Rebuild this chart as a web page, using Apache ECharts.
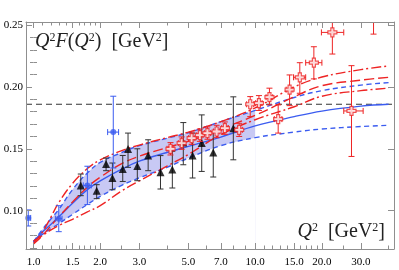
<!DOCTYPE html>
<html><head><meta charset="utf-8">
<script src="https://cdn.jsdelivr.net/npm/echarts@6/dist/echarts.min.js"></script>
<style>html,body{margin:0;padding:0;background:#fff}#c{width:399px;height:270px}</style>
</head><body><div id="c"></div>
<script>
// ---- axis ticks ----
const xTickLabels = [1, 1.5, 2, 3, 5, 7, 10, 15, 20, 30];
const xMinorTicks = [1.1,1.2,1.3,1.4,1.6,1.7,1.8,1.9,2.5,4,6,8,9,11,12,13,14,16,17,18,19,25,40];
const yTickLabels = [0.10, 0.15, 0.20, 0.25];
const yMinorTicks = [0.07,0.08,0.09,0.11,0.12,0.13,0.14,0.16,0.17,0.18,0.19,0.21,0.22,0.23,0.24];
const xMin = 0.925, xMax = 42.3, yMin = 0.069, yMax = 0.2525;

// ---- theory curves (Q^2 grid) ----
const curveQ2     = [1,     1.1,   1.2,   1.3,   1.5,   1.75,  2,     2.5,   3,     4,     5,     7,     10,    15,    20,    30,    40];
const blueCentral = [0.075, 0.083, 0.089, 0.095, 0.106, 0.117, 0.124, 0.1335,0.140, 0.147, 0.152, 0.1595,0.1685,0.176, 0.1805,0.1845,0.186];
const blueUpper   = [0.075, 0.085, 0.0935,0.101, 0.117, 0.1305,0.139, 0.147, 0.1525,0.1585,0.163, 0.172, 0.181, 0.1915,0.197, 0.2015,0.2035];
const blueLower   = [0.0745,0.081, 0.0855,0.0895,0.097, 0.105, 0.1115,0.1205,0.1265,0.135, 0.1425,0.1525,0.159, 0.1635,0.166, 0.168, 0.169];
const redUpper    = [0.0735,0.083, 0.095, 0.1065,0.122, 0.134, 0.141, 0.1485,0.153, 0.159, 0.1635,0.172, 0.183, 0.200, 0.208, 0.214, 0.217];
const redMiddle   = [0.073, 0.080, 0.088, 0.095, 0.107, 0.119, 0.127, 0.138, 0.144, 0.151, 0.156, 0.166, 0.177, 0.192, 0.201, 0.2055,0.2078];
const redLower    = [0.0755,0.080, 0.0845,0.088, 0.093, 0.099, 0.104, 0.116, 0.124, 0.136, 0.1455,0.1615,0.1735,0.184, 0.1925,0.197, 0.199];
const bandEnd = 10;
const refLine = 0.186;

// ---- blue data points ----
const blueQ2   = [0.947, 1.3,   1.75,  2.29];
const blueF    = [0.0941,0.0935,0.1204,0.1635];
const blueErr  = [0.0065,0.0105,0.0155,0.029];
const blueXErr = [0.024, 0.045, 0.073, 0.13];

// ---- black triangles ----
const blackQ2  = [1.634, 1.928, 2.125, 2.27,  2.527, 2.67,  2.94,  3.29,  3.74,  4.23,  4.74,  5.22,  5.74,  6.47,  7.97];
const blackF   = [0.1204,0.1161,0.1377,0.1264,0.1336,0.1498,0.1360,0.1445,0.1310,0.1333,0.1550,0.1445,0.1546,0.1470,0.1667];
const blackLo  = [0.1121,0.1097,0.1323,0.1169,0.1236,0.1350,0.1242,0.1323,0.1175,0.1183,0.1371,0.1264,0.1317,0.1272,0.1411];
const blackHi  = [0.1296,0.1210,0.1425,0.1385,0.1446,0.1627,0.1500,0.1573,0.1445,0.1480,0.1712,0.1627,0.1774,0.1640,0.1920];

// ---- red open crosses ----
const redQ2   = [4.15,  4.66,  5.17,  5.63,  6.09,  6.7,   7.3,   8.47,  9.5,   10.4,  11.6,  12.7,  14.3,  15.9,  18.4,  22.3,  27.2,  34.2];
const redF    = [0.150, 0.1546,0.1586,0.161, 0.1627,0.164, 0.1667,0.1653,0.186, 0.1869,0.1917,0.174, 0.1978,0.2078,0.2196,0.2441,0.1806,0.262];
const redLo   = [0.145, 0.1496,0.1536,0.156, 0.1577,0.159, 0.1617,0.160, 0.176, 0.181, 0.1855,0.1627,0.1849,0.1949,0.2065,0.2266,0.1438,0.2427];
const redHi   = [0.155, 0.1596,0.1636,0.166, 0.1677,0.169, 0.1717,0.1706,0.1922,0.193, 0.199, 0.1855,0.2097,0.2196,0.2325,0.2535,0.2172,0.281];
const redXLo  = [4.0,   4.5,   5.0,   5.45,  5.9,   6.48,  7.06,  8.2,   9.15,  10.05, 11.2,  12.2,  13.8,  14.9,  16.9,  19.9,  25.1,  32.5];
const redXHi  = [4.3,   4.82,  5.35,  5.82,  6.3,   6.93,  7.55,  8.75,  9.85,  10.75, 12.0,  13.2,  14.8,  16.9,  20.0,  25.1,  30.7,  36.0];

const BLUE = '#3b5cf0', RED = '#ee2424', BAND = '#c8c9f4', FRAME = '#8f8f8f';
const SERIF = '"Liberation Serif","DejaVu Serif",serif';
const SMOOTH = 0.4;

const pts = (ys, maxQ) => curveQ2.map((q, i) => [q, ys[i]]).filter(p => maxQ === undefined || p[0] <= maxQ);

function errRender(color, cap) {
  return function (params, api) {
    const x = api.value(0), y = api.value(1);
    const p = api.coord([x, y]);
    const lo = api.coord([x, api.value(2)]), hi = api.coord([x, api.value(3)]);
    const st = { stroke: color, lineWidth: 1 };
    const ch = [
      { type: 'line', shape: { x1: p[0], y1: lo[1], x2: p[0], y2: hi[1] }, style: st },
      { type: 'line', shape: { x1: p[0] - cap, y1: lo[1], x2: p[0] + cap, y2: lo[1] }, style: st },
      { type: 'line', shape: { x1: p[0] - cap, y1: hi[1], x2: p[0] + cap, y2: hi[1] }, style: st }
    ];
    const xl = api.value(4), xh = api.value(5);
    if (xl > 0 && xh > 0) {
      const l = api.coord([xl, y]), h = api.coord([xh, y]);
      ch.push({ type: 'line', shape: { x1: l[0], y1: p[1], x2: h[0], y2: p[1] }, style: st });
      ch.push({ type: 'line', shape: { x1: l[0], y1: p[1] - cap, x2: l[0], y2: p[1] + cap }, style: st });
      ch.push({ type: 'line', shape: { x1: h[0], y1: p[1] - cap, x2: h[0], y2: p[1] + cap }, style: st });
    }
    return { type: 'group', children: ch };
  };
}

const L = Math.log10;
const lx0 = L(xMin), lx1 = L(xMax);
const tickAxis = (pos, vals, len, labels) => ({
  type: 'value', position: pos, min: lx0, max: lx1, gridIndex: 0, z: 20,
  axisLine: { show: false },
  splitLine: { show: false },
  axisTick: { show: true, inside: true, length: len, customValues: vals.map(L), lineStyle: { color: FRAME } },
  axisLabel: labels ? { show: true, customValues: vals.map(L), margin: 8, color: '#000', fontFamily: SERIF, fontSize: 11,
    formatter: v => Math.pow(10, v).toFixed(1) } : { show: false }
});
const yTickAxis = (pos, vals, len, labels) => ({
  type: 'value', position: pos, min: yMin, max: yMax, z: 20,
  axisLine: { show: false },
  splitLine: { show: false },
  axisTick: { show: true, inside: true, length: len, customValues: vals, lineStyle: { color: FRAME } },
  axisLabel: labels ? { show: true, customValues: vals, margin: 3, color: '#000', fontFamily: SERIF, fontSize: 11,
    formatter: v => v.toFixed(2) } : { show: false }
});
const frameLine = { show: true, onZero: false, lineStyle: { color: FRAME } };

const lineS = (data, color, type, w) => ({
  type: 'line', data, symbol: 'none', smooth: SMOOTH, z: 5,
  lineStyle: { color, width: w || 1.4, type }, silent: true
});

const option = {
  animation: false,
  grid: { left: 26, right: 5, top: 22, bottom: 21, containLabel: false, outerBoundsMode: 'none', show: false },
  xAxis: [
    { type: 'log', logBase: 10, min: xMin, max: xMax, position: 'bottom', z: 20,
      axisLine: frameLine, axisTick: { show: false }, axisLabel: { show: false }, splitLine: { show: false } },
    tickAxis('bottom', xTickLabels, 6, true),
    tickAxis('bottom', xMinorTicks, 3.5, false),
    Object.assign(tickAxis('top', xTickLabels, 6, false), { axisLine: frameLine }),
    tickAxis('top', xMinorTicks, 3.5, false)
  ],
  yAxis: [
    Object.assign(yTickAxis('left', yTickLabels, 6, true), { axisLine: frameLine }),
    yTickAxis('left', yMinorTicks, 3.5, false),
    Object.assign(yTickAxis('right', yTickLabels, 6, false), { axisLine: frameLine }),
    yTickAxis('right', yMinorTicks, 3.5, false)
  ],
  series: [
    // band: fill under the upper edge, then blank out under the lower edge
    { type: 'line', data: pts(blueUpper, bandEnd), symbol: 'none', smooth: SMOOTH, z: 1,
      lineStyle: { opacity: 0 }, areaStyle: { color: BAND, opacity: 1 } },
    { type: 'line', data: pts(blueLower, bandEnd), symbol: 'none', smooth: SMOOTH, z: 1.5,
      lineStyle: { opacity: 0 }, areaStyle: { color: '#ffffff', opacity: 1 } },
    { type: 'line', data: [[xMin, refLine], [xMax, refLine]], symbol: 'none', z: 3,
      lineStyle: { color: '#333', width: 1, type: [6, 4] } },
    lineS(pts(blueUpper), BLUE, [5, 3.5]),
    lineS(pts(blueLower), BLUE, [5, 3.5]),
    lineS(pts(blueCentral), BLUE, 'solid'),
    lineS(pts(redUpper), RED, [10, 3, 2, 3]),
    lineS(pts(redMiddle), RED, [10, 4]),
    lineS(pts(redLower), RED, [10, 3, 2, 3]),
    { type: 'custom', clip: true, z: 6, renderItem: errRender('#333', 3),
      data: blackQ2.map((q, i) => [q, blackF[i], blackLo[i], blackHi[i], 0, 0]) },
    { type: 'scatter', z: 7, symbol: 'triangle', symbolSize: 8, itemStyle: { color: '#000' },
      data: blackQ2.map((q, i) => [q, blackF[i]]) },
    { type: 'custom', clip: true, z: 6, renderItem: errRender(BLUE, 3),
      data: blueQ2.map((q, i) => [q, blueF[i], blueF[i] - blueErr[i], blueF[i] + blueErr[i], q - blueXErr[i], q + blueXErr[i]]) },
    { type: 'scatter', z: 7, symbol: 'circle', symbolSize: 6, itemStyle: { color: BLUE },
      data: blueQ2.map((q, i) => [q, blueF[i]]) },
    { type: 'custom', clip: true, z: 8, renderItem: errRender(RED, 3),
      data: redQ2.map((q, i) => [q, redF[i], redLo[i], redHi[i], redXLo[i], redXHi[i]]) },
    { type: 'scatter', z: 9, clip: true,
      symbol: 'path://M-1,-3L1,-3L1,-1L3,-1L3,1L1,1L1,3L-1,3L-1,1L-3,1L-3,-1L-1,-1Z', symbolSize: 9,
      itemStyle: { color: '#fff', borderColor: RED, borderWidth: 1.2 },
      data: redQ2.map((q, i) => [q, redF[i]]) }
  ],
  graphic: [
    { type: 'text', left: 35, top: 32, z: 100,
      style: { text: '{i|Q}{s|2}{i|F}{r|(}{i|Q}{s|2}{r|)  [GeV}{s|2}{r|]}',
        rich: { i: { fontFamily: SERIF, fontStyle: 'italic', fontSize: 20, fill: '#222' },
                r: { fontFamily: SERIF, fontSize: 20, fill: '#222' },
                s: { fontFamily: SERIF, fontSize: 12, fill: '#222', verticalAlign: 'top' } } } },
    { type: 'text', right: 14, top: 222, z: 100,
      style: { text: '{i|Q}{s|2}{r|  [GeV}{s|2}{r|]}',
        rich: { i: { fontFamily: SERIF, fontStyle: 'italic', fontSize: 20, fill: '#222' },
                r: { fontFamily: SERIF, fontSize: 20, fill: '#222' },
                s: { fontFamily: SERIF, fontSize: 12, fill: '#222', verticalAlign: 'top' } } } }
  ]
};
option.series.forEach(s => { s.xAxisIndex = 0; s.yAxisIndex = 0; s.animation = false; });
const chart = echarts.init(document.getElementById('c'), null, { renderer: 'canvas' });
chart.setOption(option);
</script></body></html>
